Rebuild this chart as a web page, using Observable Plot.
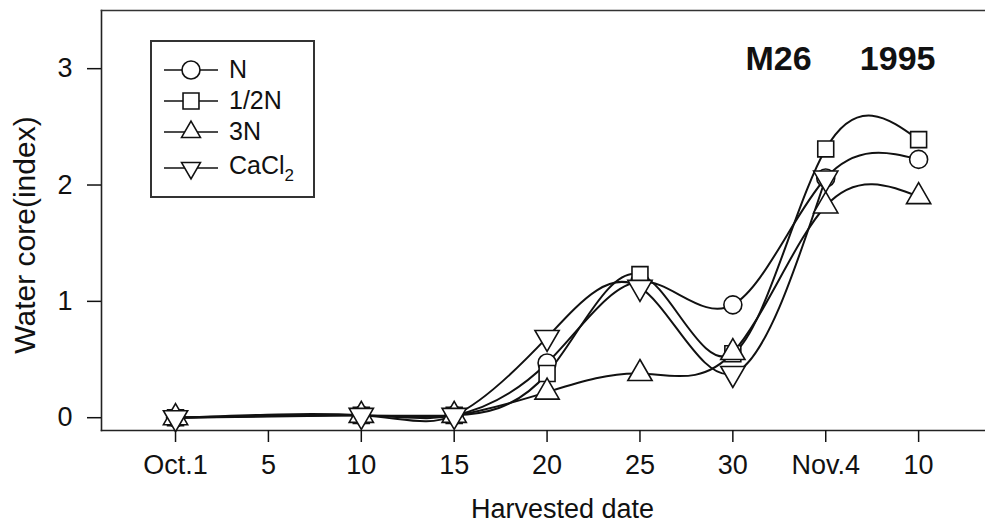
<!DOCTYPE html>
<html>
<head>
<meta charset="utf-8">
<script src="https://cdn.jsdelivr.net/npm/d3@7"></script>
<script src="https://cdn.jsdelivr.net/npm/@observablehq/plot@0.6"></script>
<style>
  body { margin: 0; background: #fff; font-family: "Liberation Sans", Arial, sans-serif; }
  #wrap { position: relative; width: 985px; height: 524px; }
  #legend { position: absolute; left: 150px; top: 40px; border: 2px solid #333; padding-top: 12px; box-sizing: border-box; width: 165px; height: 158px; background: #fff; }
  .row { display: flex; align-items: center; height: 31px; font-size: 25px; color: #111; }
  .row svg { flex: none; margin-left: 11px; }
  .row span { margin-left: 10px; }
  #ytitle { position: absolute; left: 25px; top: 235px; transform: translate(-50%, -50%) rotate(-90deg); white-space: nowrap; font-size: 30px; color: #111; line-height: 1; }
</style>
</head>
<body>
<div id="wrap"></div>
<script>
// Equally spaced harvest-date slots on the x axis
const tickLabels = ["Oct.1", "5", "10", "15", "20", "25", "30", "Nov.4", "10"];
const harvestSlot = [0, 2, 3, 4, 5, 6, 7, 8];

// Water core index by treatment (null = not sampled)
const seriesNames = ["N", "1/2N", "3N", "CaCl2"];
const valuesN     = [0, 0.02, 0.02, 0.47, 1.17, 0.97, 2.06, 2.22];
const valuesHalfN = [0, 0.02, 0.02, 0.38, 1.23, 0.55, 2.31, 2.39];
const values3N    = [0, 0.02, 0.02, 0.22, 0.38, 0.56, 1.82, 1.90];
const valuesCaCl2 = [0, 0.02, 0.02, 0.69, 1.12, 0.38, 2.06, null];

const yTicks = [0, 1, 2, 3];
const symbols = ["circle", "square", "triangle", "triangle"];
const rotations = [0, 0, 0, 180];

const allValues = [valuesN, valuesHalfN, values3N, valuesCaCl2];
const rows = [];
seriesNames.forEach((name, s) => {
  allValues[s].forEach((v, i) => {
    if (v != null) rows.push({ series: name, slot: harvestSlot[i], value: v, rot: rotations[s] });
  });
});

const font = '"Liberation Sans", Arial, sans-serif';
const ink = "#111";

const chart = Plot.plot({
  width: 985,
  height: 524,
  marginLeft: 101,
  marginRight: 0,
  marginTop: 10,
  marginBottom: 94,
  style: { fontFamily: font, fontSize: "27px", color: ink, background: "white", overflow: "visible" },
  x: { domain: [-0.797, 8.72] },
  y: { domain: [-0.11, 3.5] },
  symbol: { domain: seriesNames, range: symbols },
  marks: [
    Plot.frame({ anchor: "left", stroke: "#222", strokeWidth: 1.6 }),
    Plot.frame({ anchor: "top", stroke: "#333", strokeWidth: 1.6 }),
    Plot.frame({ anchor: "bottom", stroke: "#222", strokeWidth: 1.6 }),
    Plot.axisX({ ticks: tickLabels.map((_, i) => i), tickFormat: i => tickLabels[i], tickSize: 12, tickPadding: 12, label: null, fontSize: 27, strokeWidth: 1.5 }),
    Plot.axisY({ ticks: yTicks, tickFormat: d => String(d), tickSize: 14, tickPadding: 15, label: null, fontSize: 27, strokeWidth: 1.5 }),
    Plot.line(rows, { x: "slot", y: "value", z: "series", curve: "natural", stroke: ink, strokeWidth: 2 }),
    Plot.dot(rows, { x: "slot", y: "value", symbol: "series", rotate: "rot", r: 9, fill: "white", stroke: ink, strokeWidth: 1.6 }),
    Plot.text(["Harvested date"], { text: d => d, frameAnchor: "bottom", textAnchor: "middle", lineAnchor: "middle", dx: 19, dy: 79, fontSize: 27, fill: ink }),
    Plot.text(["M26"], { text: d => d, frameAnchor: "top-right", textAnchor: "start", lineAnchor: "middle", dx: -240, dy: 49, fontSize: 34, fontWeight: "bold", fill: ink }),
    Plot.text(["1995"], { text: d => d, frameAnchor: "top-right", textAnchor: "end", lineAnchor: "middle", dx: -50, dy: 49, fontSize: 34, fontWeight: "bold", fill: ink })
  ]
});

const wrap = document.getElementById("wrap");
wrap.appendChild(chart);

const ytitle = document.createElement("div");
ytitle.id = "ytitle";
ytitle.textContent = "Water core(index)";
wrap.appendChild(ytitle);

// Legend (built from the series arrays)
const legend = document.createElement("div");
legend.id = "legend";
const symPath = {
  circle: d3.symbol(d3.symbolCircle, Math.PI * 81)(),
  square: d3.symbol(d3.symbolSquare, Math.PI * 81)(),
  triangle: d3.symbol(d3.symbolTriangle2, Math.PI * 81)()
};
seriesNames.forEach((name, s) => {
  const row = document.createElement("div");
  row.className = "row";
  if (s === seriesNames.length - 1) row.style.height = "42px";
  const label = name === "CaCl2" ? 'CaCl<sub style="font-size:17px;vertical-align:-7px">2</sub>' : name;
  row.innerHTML =
    `<svg width="56" height="24" viewBox="-28 -12 56 24" overflow="visible">
       <line x1="-27" x2="27" y1="0" y2="0" stroke="${ink}" stroke-width="1.5"/>
       <path d="${symPath[symbols[s]]}" transform="rotate(${rotations[s]})" fill="white" stroke="${ink}" stroke-width="1.6"/>
     </svg><span>${label}</span>`;
  legend.appendChild(row);
});
wrap.appendChild(legend);
</script>
</body>
</html>
